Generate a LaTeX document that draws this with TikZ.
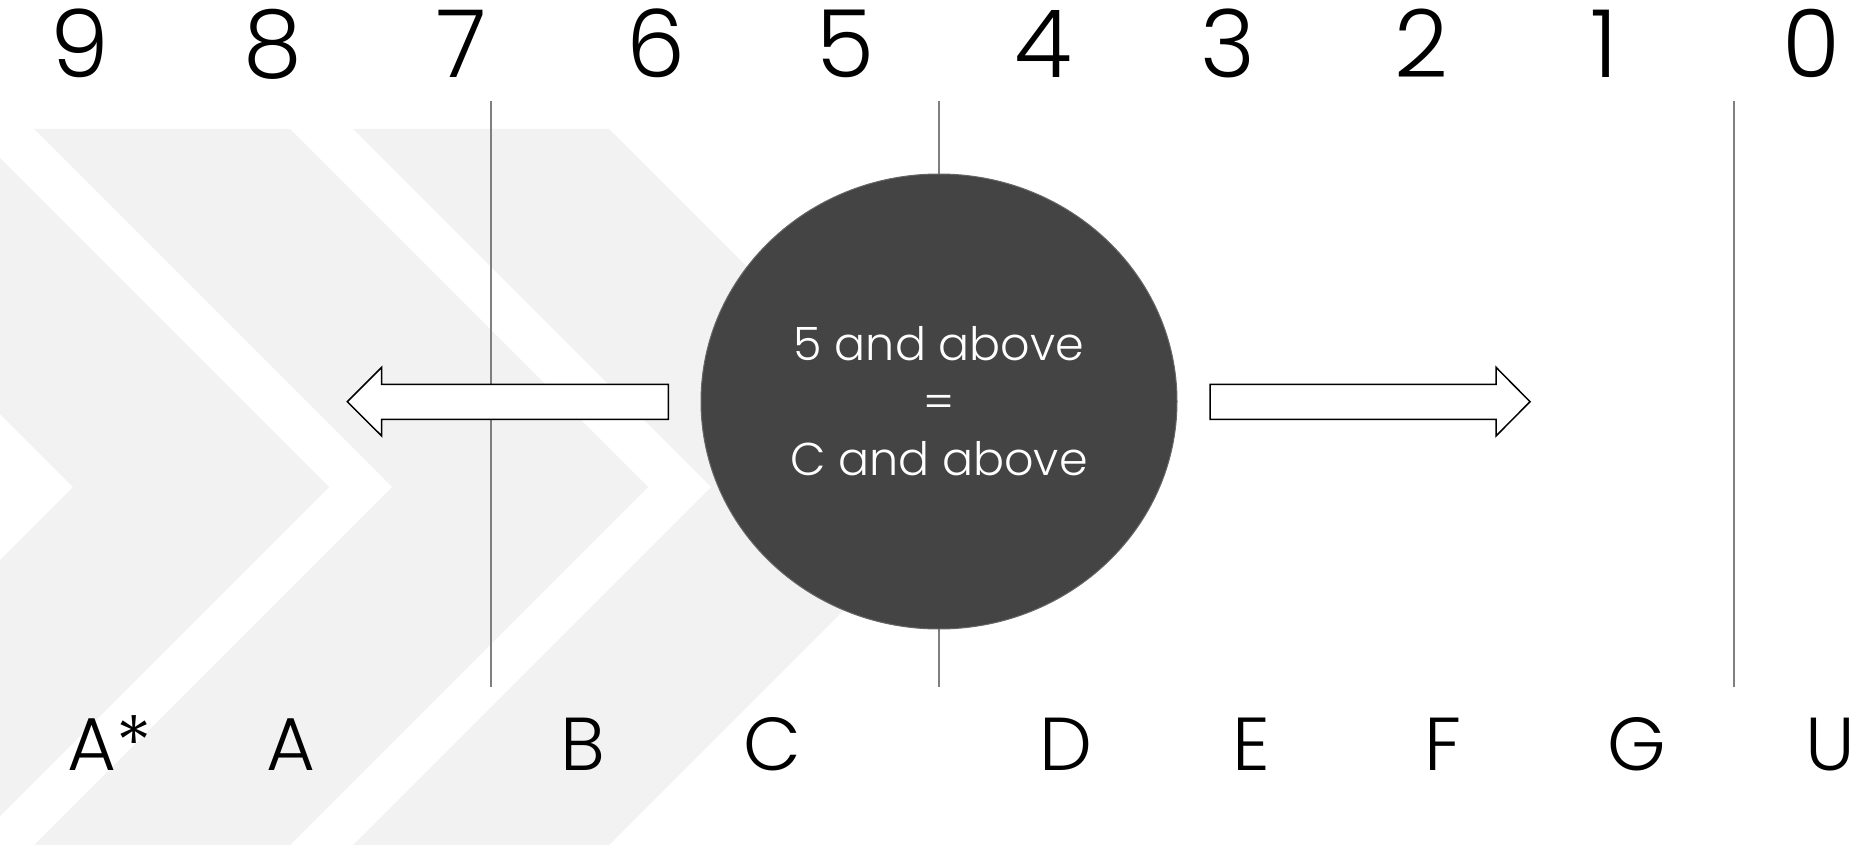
\documentclass[tikz,border=0pt]{standalone}
\usepackage{fontspec}
\setmainfont{Poppins Light}
\usepackage{tikz}
\usetikzlibrary{positioning,calc}
\definecolor{chevron}{HTML}{F2F2F2}
\definecolor{disc}{HTML}{444444}
\definecolor{rule}{HTML}{7F7F7F}
\tikzset{
  digit/.style={anchor=base,font=\fontsize{94}{100}\selectfont},
  grade/.style={anchor=base,font=\fontsize{75}{80}\selectfont},
  disctext/.style={anchor=base,text=white,font=\fontsize{46}{50}\selectfont},
  blockarrow/.style={draw=black,fill=white,line width=1.5pt,line join=miter},
  divider/.style={draw=rule,line width=2pt},
}

\begin{document}
\begin{tikzpicture}[x=1pt,y=-1pt]
\useasboundingbox (0,0) rectangle (1872,845);
% background chevrons
\begin{scope}
\clip (0,0) rectangle (1872,845);
\fill[chevron] (-285,129) -- (-29,129) -- (329,487) -- (-29,845) -- (-285,845) -- (73,487) -- cycle;
\fill[chevron] (34,129) -- (290,129) -- (648,487) -- (290,845) -- (34,845) -- (392,487) -- cycle;
\fill[chevron] (353,129) -- (609,129) -- (967,487) -- (609,845) -- (353,845) -- (711,487) -- cycle;
\end{scope}
% dividers
\coordinate (centre) at (939,401.5);
\draw[divider] (491,101) -- (491,686.5);
\draw[divider] (939,101) -- (939,686.5);
\draw[divider] (1734,101) -- (1734,686.5);
\fill[disc] (centre) ellipse [x radius=238, y radius=227.5];
\draw[draw=black!60,line width=1pt] (centre) ellipse [x radius=238, y radius=227.5];
% block arrows
\draw[blockarrow] (347.3,401.7) -- (381.7,367.3) -- (381.7,384.3) -- (668.3,384.3)
  -- (668.3,419.3) -- (381.7,419.3) -- (381.7,436) -- cycle;
\draw[blockarrow] (1530,401.7) -- (1496,367.3) -- (1496,384.3) -- (1210,384.3)
  -- (1210,419.3) -- (1496,419.3) -- (1496,436) -- cycle;
% text in the disc
\node[disctext] (line1) at (939,360.7) {5 and above};
\node[disctext] (line2) at (939,418.2) {=};
\node[disctext] (line3) at (939,475.7) {C and above};
% points
\node[digit] (p9) at (79.4,77.3) {9};
\node[digit] (p8) at (272.8,77.3) {8};
\node[digit] (p7) at (462,77.3) {7};
\node[digit] (p6) at (656.5,77.3) {6};
\node[digit] (p5) at (845.3,77.3) {5};
\node[digit] (p4) at (1043.5,77.3) {4};
\node[digit] (p3) at (1228,77.3) {3};
\node[digit] (p2) at (1421.4,77.3) {2};
\node[digit] (p1) at (1604,77.3) {1};
\node[digit] (p0) at (1811,77.3) {0};
% grades
\node[grade] (gAs) at (110,770.7) {A*};
\node[grade] (gA) at (291.4,770.7) {A};
\node[grade] (gB) at (582.4,770.7) {B};
\node[grade] (gC) at (772.2,770.7) {C};
\node[grade] (gD) at (1065.5,770.7) {D};
\node[grade] (gE) at (1251.7,770.7) {E};
\node[grade] (gF) at (1443,770.7) {F};
\node[grade] (gG) at (1636.5,770.7) {G};
\node[grade] (gU) at (1830.3,770.7) {U};
\end{tikzpicture}
\end{document}
